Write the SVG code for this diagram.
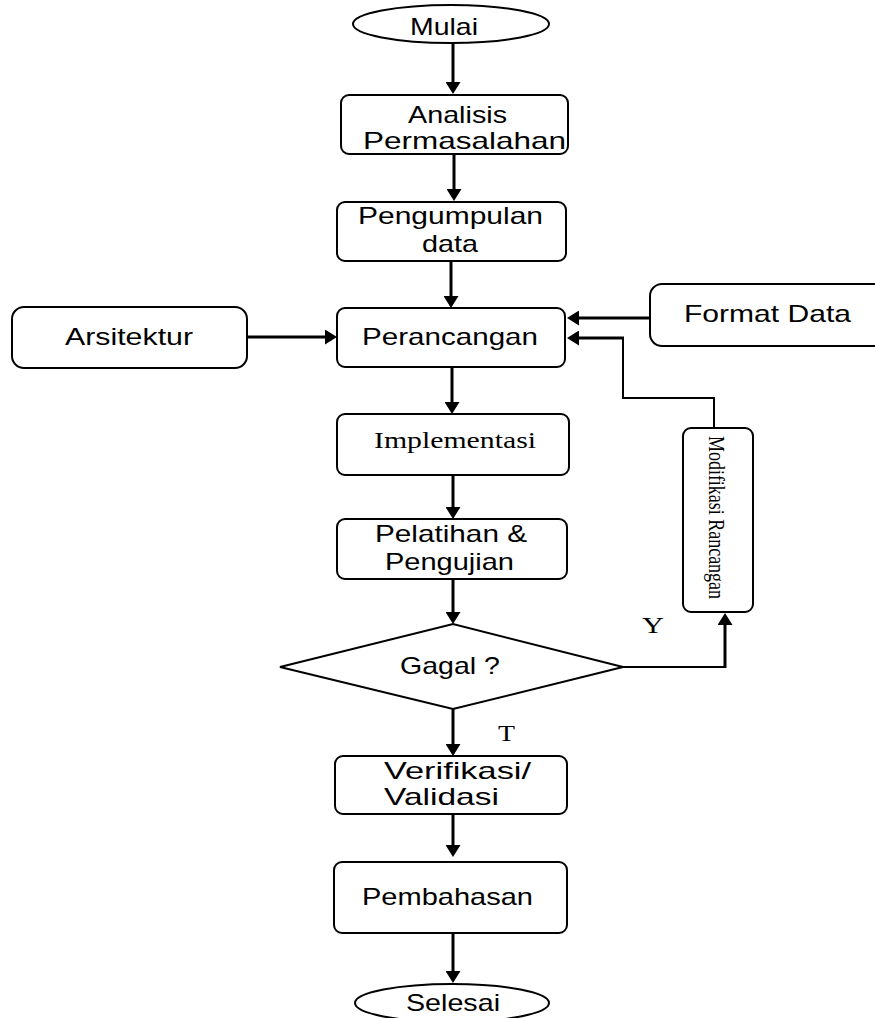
<svg xmlns="http://www.w3.org/2000/svg" width="875" height="1018" viewBox="0 0 875 1018">
<defs>
<style>
.box{fill:#fff;stroke:#000;stroke-width:2}
.s{font-family:"Liberation Sans",Arial,sans-serif;font-size:24px;fill:#000}
.r{font-family:"Liberation Serif","Times New Roman",serif;font-size:23px;fill:#000}
.c{fill:none;stroke:#000;stroke-width:3}
.t{fill:none;stroke:#000;stroke-width:2}
</style>
<marker id="ah" viewBox="0 0 12 15" refX="8" refY="7.5" markerWidth="12" markerHeight="15" orient="auto" markerUnits="userSpaceOnUse">
<path d="M0,0 L12,7.5 L0,15 Z" fill="#000"/>
</marker>
</defs>
<rect width="875" height="1018" fill="#fff"/>
<g id="connectors">
<line class="c" x1="453" y1="42" x2="453" y2="90" marker-end="url(#ah)"/>
<line class="c" x1="454" y1="155" x2="454" y2="197" marker-end="url(#ah)"/>
<line class="c" x1="451" y1="261" x2="451" y2="304" marker-end="url(#ah)"/>
<line class="c" x1="248" y1="337" x2="333" y2="337" marker-end="url(#ah)"/>
<line class="c" x1="650" y1="318" x2="571" y2="318" marker-end="url(#ah)"/>
<polyline class="t" points="714,428 714,398 623,398 623,338 600,338"/>
<line class="c" x1="624" y1="338" x2="571" y2="338" marker-end="url(#ah)"/>
<line class="c" x1="452" y1="367" x2="452" y2="410" marker-end="url(#ah)"/>
<line class="c" x1="453" y1="475" x2="453" y2="515" marker-end="url(#ah)"/>
<line class="c" x1="453" y1="579" x2="453" y2="620" marker-end="url(#ah)"/>
<polyline class="t" points="623,667 725,667"/>
<line class="c" x1="725" y1="668" x2="725" y2="617" marker-end="url(#ah)"/>
<line class="c" x1="453" y1="709" x2="453" y2="752" marker-end="url(#ah)"/>
<line class="c" x1="453" y1="814" x2="453" y2="853" marker-end="url(#ah)"/>
<line class="c" x1="453" y1="933" x2="453" y2="979" marker-end="url(#ah)"/>
</g>
<g id="mulai">
<ellipse class="box" cx="451" cy="24" rx="98" ry="19"/>
<text class="s" x="410" y="35" font-size="22" textLength="68" lengthAdjust="spacingAndGlyphs">Mulai</text>
</g>
<g id="analisis">
<rect class="box" x="341" y="95" width="227" height="59" rx="8"/>
<text class="s" x="408" y="123" textLength="99" lengthAdjust="spacingAndGlyphs">Analisis</text>
<text class="s" x="363" y="149" textLength="203" lengthAdjust="spacingAndGlyphs">Permasalahan</text>
</g>
<g id="pengumpulan">
<rect class="box" x="337" y="202" width="229" height="59" rx="8"/>
<text class="s" x="358" y="224" textLength="185" lengthAdjust="spacingAndGlyphs">Pengumpulan</text>
<text class="s" x="422" y="252" textLength="56" lengthAdjust="spacingAndGlyphs">data</text>
</g>
<g id="perancangan">
<rect class="box" x="337" y="308" width="228" height="59" rx="8"/>
<text class="s" x="362" y="345" textLength="176" lengthAdjust="spacingAndGlyphs">Perancangan</text>
</g>
<g id="arsitektur">
<rect class="box" x="12" y="307" width="235" height="61" rx="12"/>
<text class="s" x="65" y="345" textLength="128" lengthAdjust="spacingAndGlyphs">Arsitektur</text>
</g>
<g id="format-data">
<rect class="box" x="650" y="284" width="240" height="62" rx="12"/>
<text class="s" x="684" y="322" textLength="167" lengthAdjust="spacingAndGlyphs">Format Data</text>
</g>
<g id="implementasi">
<rect class="box" x="337" y="414" width="232" height="61" rx="8"/>
<text class="r" x="374" y="448" textLength="162" lengthAdjust="spacingAndGlyphs">Implementasi</text>
</g>
<g id="pelatihan">
<rect class="box" x="337" y="519" width="230" height="60" rx="8"/>
<text class="s" x="375" y="542" textLength="152" lengthAdjust="spacingAndGlyphs">Pelatihan &amp;</text>
<text class="s" x="385" y="570" textLength="129" lengthAdjust="spacingAndGlyphs">Pengujian</text>
</g>
<g id="modifikasi">
<rect class="box" x="683" y="428" width="70" height="184" rx="8"/>
<text class="r" transform="translate(709,436) rotate(90)" x="0" y="0" font-size="19" textLength="163" lengthAdjust="spacingAndGlyphs">Modifikasi Rancangan</text>
</g>
<g id="gagal">
<polygon class="box" points="280,667 453,624 623,667 453,709"/>
<text class="s" x="400" y="674" font-size="22" textLength="100" lengthAdjust="spacingAndGlyphs">Gagal ?</text>
</g>
<g id="labels">
<text class="r" x="642" y="633" textLength="22" lengthAdjust="spacingAndGlyphs">Y</text>
<text class="r" x="498" y="741" textLength="17" lengthAdjust="spacingAndGlyphs">T</text>
</g>
<g id="verifikasi">
<rect class="box" x="335" y="756" width="232" height="58" rx="8"/>
<text class="s" x="384" y="779" textLength="147" lengthAdjust="spacingAndGlyphs">Verifikasi/</text>
<text class="s" x="384" y="805" textLength="115" lengthAdjust="spacingAndGlyphs">Validasi</text>
</g>
<g id="pembahasan">
<rect class="box" x="334" y="862" width="233" height="71" rx="8"/>
<text class="s" x="362" y="905" textLength="171" lengthAdjust="spacingAndGlyphs">Pembahasan</text>
</g>
<g id="selesai">
<ellipse class="box" cx="452" cy="1003" rx="97" ry="19"/>
<text class="s" x="406" y="1011" font-size="23" textLength="94" lengthAdjust="spacingAndGlyphs">Selesai</text>
</g>
</svg>
